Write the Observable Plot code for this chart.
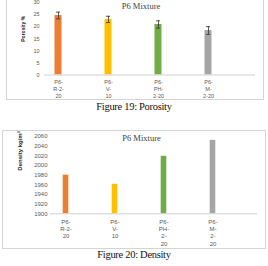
<!DOCTYPE html>
<html>
<head>
<meta charset="utf-8">
<script src="https://cdn.jsdelivr.net/npm/d3@7"></script>
<script src="https://cdn.jsdelivr.net/npm/@observablehq/plot@0.6"></script>
<style>
  html, body { margin: 0; padding: 0; background: #fff; }
  #page { position: relative; width: 268px; height: 266px; overflow: hidden; background: #fff; }
  .frame { position: absolute; border: 1px solid #d4d4d4; box-sizing: border-box; }
  .chart { position: absolute; left: 0; }
  .caption { position: absolute; left: 0; width: 268px; text-align: center;
    font-family: "Liberation Serif", "DejaVu Serif", serif; font-size: 10.5px; color: #111;
    letter-spacing: -0.3px; }
</style>
</head>
<body>
<div id="page">
  <div class="frame" style="left:6px; top:-2px; width:258px; height:102px;"></div>
  <div class="frame" style="left:2px; top:130px; width:264px; height:119px;"></div>
  <div class="chart" id="porosity" style="top:0px;"></div>
  <div class="caption" style="top:101px;">Figure 19: Porosity</div>
  <div class="chart" id="density" style="top:130px;"></div>
  <div class="caption" style="top:249px;">Figure 20: Density</div>
</div>
<script>
// Mixes of the P6 series
const categories = ["P6-R-2-20", "P6-V-10", "P6-PH-2-20", "P6-M-2-20"];
const barColors = ["#ED7D31", "#FFC000", "#70AD47", "#A5A5A5"];

// Porosity (%) with error bar half-widths
const porosity = [24.6, 23.0, 20.9, 18.4];
const porosityErr = [1.4, 1.3, 1.5, 1.6];
const porosityTicks = [0, 5, 10, 15, 20, 25, 30];
const porosityTickLabels = ["P6-\nR-2-\n20", "P6-\nV-\n10", "P6-\nPH-\n2-20", "P6-\nM-\n2-20"];

// Density (kg/m³)
const density = [1980, 1961, 2019, 2052];
const densityTicks = [1900, 1920, 1940, 1960, 1980, 2000, 2020, 2040, 2060];
const densityTickLabels = ["P6-\nR-2-\n20", "P6-\nV-\n10", "P6-\nPH-\n2-\n20", "P6-\nM-\n2-\n20"];

const chartTitle = "P6 Mixture";
const porosityLabel = "Porosity %";
const densityLabel = "Density kg/m³";

const sans = "'Liberation Sans', Arial, sans-serif";
const narrow = "'Liberation Sans Narrow', 'Liberation Sans', Arial, sans-serif";
const serif = "'Liberation Serif', 'DejaVu Serif', serif";

const porosityRows = categories.map((c, i) => ({cat: c, value: porosity[i], err: porosityErr[i]}));
const densityRows = categories.map((c, i) => ({cat: c, value: density[i]}));

const porosityChart = Plot.plot({
  width: 268, height: 100,
  marginLeft: 44, marginRight: 13, marginTop: 2, marginBottom: 25.5,
  style: {background: "transparent", color: "#595959", fontFamily: sans, overflow: "visible"},
  x: {type: "band", domain: categories, range: [32, 233], padding: 0},
  y: {domain: [0, 30]},
  color: {domain: categories, range: barColors},
  marks: [
    Plot.axisY(porosityTicks, {tickSize: 0, tickPadding: 5, label: null, fontSize: 5.5, letterSpacing: 0.4,
      tickFormat: d3.format("d")}),
    Plot.axisX({tickSize: 0, tickPadding: 3.5, label: null, fontSize: 5.5, letterSpacing: 0.5, lineHeight: 1.3,
      tickFormat: d => porosityTickLabels[categories.indexOf(d)]}),
    Plot.barY(porosityRows, {x: "cat", y: "value", fill: "cat", insetLeft: 21.5, insetRight: 21.5}),
    Plot.ruleY([0], {stroke: "#d0d0d0"}),
    Plot.ruleX(porosityRows, {x: "cat", y1: d => d.value - d.err, y2: d => d.value + d.err, stroke: "#333", strokeWidth: 0.8}),
    Plot.tickY(porosityRows, {x: "cat", y: d => d.value - d.err, stroke: "#333", strokeWidth: 0.8, insetLeft: 23, insetRight: 23}),
    Plot.tickY(porosityRows, {x: "cat", y: d => d.value + d.err, stroke: "#333", strokeWidth: 0.8, insetLeft: 23, insetRight: 23}),
    Plot.text([porosityLabel], {frameAnchor: "left", dx: -21, dy: 3, rotate: -90, fontSize: 5, fontWeight: "bold",
      fontFamily: narrow, fill: "#222"}),
    Plot.text([chartTitle], {frameAnchor: "top", dx: -9, dy: 3.5, lineAnchor: "middle", fontSize: 8.5,
      fontFamily: serif, fill: "#404040", letterSpacing: 0.3})
  ]
});
document.getElementById("porosity").appendChild(porosityChart);

const densityChart = Plot.plot({
  width: 268, height: 118,
  marginLeft: 50, marginRight: 11, marginTop: 6, marginBottom: 34.7,
  style: {background: "transparent", color: "#595959", fontFamily: sans, overflow: "visible"},
  x: {type: "band", domain: categories, range: [40.3, 237.9], padding: 0},
  y: {domain: [1900, 2060]},
  color: {domain: categories, range: barColors},
  marks: [
    Plot.axisY(densityTicks, {tickSize: 0, tickPadding: 3, label: null, fontSize: 6, letterSpacing: 0.6,
      tickFormat: d3.format("d")}),
    Plot.axisX({tickSize: 0, tickPadding: 4.5, label: null, fontSize: 6, letterSpacing: 0.6, lineHeight: 1.23,
      tickFormat: d => densityTickLabels[categories.indexOf(d)]}),
    Plot.barY(densityRows, {x: "cat", y1: 1900, y2: "value", fill: "cat", insetLeft: 21.7, insetRight: 21.7}),
    Plot.ruleY([1900], {stroke: "#d0d0d0"}),
    Plot.text([densityLabel], {frameAnchor: "left", dx: -30, dy: -4.5, rotate: -90, fontSize: 6, fontWeight: "bold",
      fontFamily: narrow, fill: "#222"}),
    Plot.text([chartTitle], {frameAnchor: "top", dx: -12.5, dy: 1.5, lineAnchor: "middle", fontSize: 8.5,
      fontFamily: serif, fill: "#404040", letterSpacing: 0.3})
  ]
});
document.getElementById("density").appendChild(densityChart);
</script>
</body>
</html>
